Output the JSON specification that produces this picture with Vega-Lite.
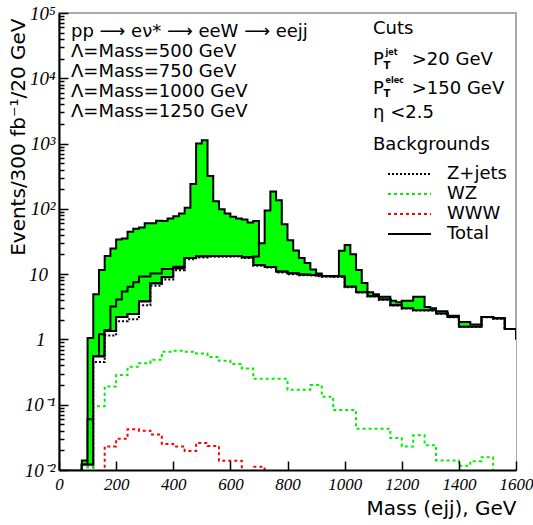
{
  "$schema": "https://vega.github.io/schema/vega-lite/v6.json",
  "width": 457,
  "height": 457,
  "autosize": {"type": "none"},
  "padding": {"left": 59, "top": 13, "right": 17, "bottom": 55},
  "background": "white",
  "config": {
    "view": {"stroke": "#aaaaaa", "strokeWidth": 2},
    "text": {"font": "DejaVu Sans", "fontSize": 18, "color": "black", "align": "left", "baseline": "alphabetic"},
    "legend": {
      "orient": "none", "legendX": 314, "legendY": 123, "padding": 0,
      "titleFont": "DejaVu Sans", "titleFontSize": 18, "titleFontWeight": "normal", "titleColor": "black", "titlePadding": 9,
      "labelFont": "DejaVu Sans", "labelFontSize": 18, "labelColor": "black",
      "symbolType": "M-2.15,0H2.15", "symbolSize": 400, "symbolStrokeWidth": 2,
      "symbolOffset": 25.5, "labelOffset": 26.5, "rowPadding": 0
    }
  },
  "datasets": {
    "hist": [
    {"m":60,"s500":0.001,"s750":0.001,"s1000":0.001,"s1250":0.001,"total":0.001,"zjets":0.001,"wz":0.001,"www":0.001},
    {"m":80,"s500":0.014,"s750":0.012,"s1000":0.012,"s1250":0.012,"total":0.012,"zjets":0.001,"wz":0.011,"www":0.001},
    {"m":100,"s500":1.05,"s750":0.06,"s1000":0.012,"s1250":0.012,"total":0.012,"zjets":0.001,"wz":0.011,"www":0.001},
    {"m":120,"s500":4.9,"s750":0.55,"s1000":0.55,"s1250":0.55,"total":0.55,"zjets":0.45,"wz":0.095,"www":0.001},
    {"m":140,"s500":11.6,"s750":1.2,"s1000":0.55,"s1250":0.55,"total":0.55,"zjets":0.45,"wz":0.095,"www":0.001},
    {"m":160,"s500":19,"s750":1.4,"s1000":1.35,"s1250":1.35,"total":1.35,"zjets":1.15,"wz":0.19,"www":0.023},
    {"m":180,"s500":24.8,"s750":3.2,"s1000":1.35,"s1250":1.35,"total":1.35,"zjets":1.15,"wz":0.19,"www":0.023},
    {"m":200,"s500":34,"s750":4.1,"s1000":2.2,"s1250":2.2,"total":2.2,"zjets":1.9,"wz":0.285,"www":0.03},
    {"m":220,"s500":35,"s750":5.4,"s1000":2.2,"s1250":2.2,"total":2.2,"zjets":1.9,"wz":0.285,"www":0.03},
    {"m":240,"s500":44.6,"s750":6.4,"s1000":2.45,"s1250":2.45,"total":2.45,"zjets":2.03,"wz":0.38,"www":0.042},
    {"m":260,"s500":49.5,"s750":7.5,"s1000":2.45,"s1250":2.45,"total":2.45,"zjets":2.03,"wz":0.38,"www":0.042},
    {"m":280,"s500":52,"s750":9.2,"s1000":3.8,"s1250":3.8,"total":3.8,"zjets":3.33,"wz":0.43,"www":0.04},
    {"m":300,"s500":60,"s750":9.2,"s1000":3.8,"s1250":3.8,"total":3.8,"zjets":3.33,"wz":0.43,"www":0.04},
    {"m":320,"s500":60,"s750":10.2,"s1000":7.2,"s1250":7.2,"total":7.2,"zjets":6.67,"wz":0.49,"www":0.035},
    {"m":340,"s500":66,"s750":10.2,"s1000":7.2,"s1250":7.2,"total":7.2,"zjets":6.67,"wz":0.49,"www":0.035},
    {"m":360,"s500":65,"s750":12,"s1000":9,"s1250":9,"total":9,"zjets":8.3,"wz":0.65,"www":0.025},
    {"m":380,"s500":71,"s750":12,"s1000":9,"s1250":9,"total":9,"zjets":8.3,"wz":0.65,"www":0.025},
    {"m":400,"s500":77,"s750":13,"s1000":12.2,"s1250":12.2,"total":12.2,"zjets":11.5,"wz":0.67,"www":0.023},
    {"m":420,"s500":85,"s750":13,"s1000":12.2,"s1250":12.2,"total":12.2,"zjets":11.5,"wz":0.67,"www":0.023},
    {"m":440,"s500":104,"s750":17.6,"s1000":17.6,"s1250":17.6,"total":17.6,"zjets":16.9,"wz":0.65,"www":0.0195},
    {"m":460,"s500":241,"s750":17.6,"s1000":17.6,"s1250":17.6,"total":17.6,"zjets":16.9,"wz":0.65,"www":0.0195},
    {"m":480,"s500":1000,"s750":18.6,"s1000":18.6,"s1250":18.6,"total":18.6,"zjets":18,"wz":0.61,"www":0.026},
    {"m":500,"s500":1125,"s750":18.6,"s1000":18.6,"s1250":18.6,"total":18.6,"zjets":18,"wz":0.61,"www":0.026},
    {"m":520,"s500":318,"s750":19,"s1000":19,"s1250":19,"total":19,"zjets":18.4,"wz":0.54,"www":0.0234},
    {"m":540,"s500":131,"s750":19,"s1000":19,"s1250":19,"total":19,"zjets":18.4,"wz":0.54,"www":0.0234},
    {"m":560,"s500":99,"s750":19,"s1000":19,"s1250":19,"total":19,"zjets":18.5,"wz":0.47,"www":0.0138},
    {"m":580,"s500":85,"s750":19,"s1000":19,"s1250":19,"total":19,"zjets":18.5,"wz":0.47,"www":0.0138},
    {"m":600,"s500":75.7,"s750":19,"s1000":19,"s1250":19,"total":19,"zjets":18.6,"wz":0.42,"www":0.0138},
    {"m":620,"s500":71,"s750":19,"s1000":19,"s1250":19,"total":19,"zjets":18.6,"wz":0.42,"www":0.0138},
    {"m":640,"s500":69,"s750":18,"s1000":18,"s1250":18,"total":18,"zjets":17.6,"wz":0.36,"www":0.001},
    {"m":660,"s500":62,"s750":18,"s1000":18,"s1250":18,"total":18,"zjets":17.6,"wz":0.36,"www":0.001},
    {"m":680,"s500":65,"s750":18.6,"s1000":13.8,"s1250":13.8,"total":13.8,"zjets":13.5,"wz":0.25,"www":0.0112},
    {"m":700,"s500":25,"s750":29.6,"s1000":13.8,"s1250":13.8,"total":13.8,"zjets":13.5,"wz":0.25,"www":0.0112},
    {"m":720,"s500":12.9,"s750":94,"s1000":12.9,"s1250":12.9,"total":12.9,"zjets":12.6,"wz":0.25,"www":0.001},
    {"m":740,"s500":12.9,"s750":184,"s1000":12.9,"s1250":12.9,"total":12.9,"zjets":12.6,"wz":0.25,"www":0.001},
    {"m":760,"s500":10.9,"s750":136,"s1000":10.9,"s1250":10.9,"total":10.9,"zjets":10.6,"wz":0.25,"www":0.001},
    {"m":780,"s500":10.9,"s750":58,"s1000":10.9,"s1250":10.9,"total":10.9,"zjets":10.6,"wz":0.25,"www":0.001},
    {"m":800,"s500":10.2,"s750":33,"s1000":10.2,"s1250":10.2,"total":10.2,"zjets":10,"wz":0.17,"www":0.001},
    {"m":820,"s500":10.2,"s750":23,"s1000":10.2,"s1250":10.2,"total":10.2,"zjets":10,"wz":0.17,"www":0.001},
    {"m":840,"s500":9.8,"s750":17.6,"s1000":9.8,"s1250":9.8,"total":9.8,"zjets":9.6,"wz":0.17,"www":0.001},
    {"m":860,"s500":9.8,"s750":14.8,"s1000":9.8,"s1250":9.8,"total":9.8,"zjets":9.6,"wz":0.17,"www":0.001},
    {"m":880,"s500":9.7,"s750":11.8,"s1000":9.7,"s1250":9.7,"total":9.7,"zjets":9.5,"wz":0.2,"www":0.001},
    {"m":900,"s500":9.5,"s750":10.2,"s1000":9.5,"s1250":9.5,"total":9.5,"zjets":9.3,"wz":0.2,"www":0.001},
    {"m":920,"s500":9.3,"s750":9.3,"s1000":9.3,"s1250":9.3,"total":9.3,"zjets":9.15,"wz":0.133,"www":0.001},
    {"m":940,"s500":9.3,"s750":9.3,"s1000":9.3,"s1250":9.3,"total":9.3,"zjets":9.15,"wz":0.133,"www":0.001},
    {"m":960,"s500":9.2,"s750":9.2,"s1000":9.3,"s1250":9.2,"total":9.2,"zjets":9.1,"wz":0.083,"www":0.001},
    {"m":980,"s500":9.2,"s750":9.2,"s1000":22.8,"s1250":9.2,"total":9.2,"zjets":9.1,"wz":0.083,"www":0.001},
    {"m":1000,"s500":6.4,"s750":6.4,"s1000":27.9,"s1250":6.4,"total":6.4,"zjets":6.3,"wz":0.083,"www":0.001},
    {"m":1020,"s500":6.4,"s750":6.4,"s1000":20.2,"s1250":6.4,"total":6.4,"zjets":6.3,"wz":0.083,"www":0.001},
    {"m":1040,"s500":5.3,"s750":5.3,"s1000":11.6,"s1250":5.3,"total":5.3,"zjets":5.25,"wz":0.043,"www":0.001},
    {"m":1060,"s500":5.3,"s750":5.3,"s1000":7.3,"s1250":5.3,"total":5.3,"zjets":5.25,"wz":0.043,"www":0.001},
    {"m":1080,"s500":4.6,"s750":4.6,"s1000":5.3,"s1250":4.6,"total":4.6,"zjets":4.55,"wz":0.043,"www":0.001},
    {"m":1100,"s500":4.6,"s750":4.6,"s1000":4.9,"s1250":4.6,"total":4.6,"zjets":4.55,"wz":0.043,"www":0.001},
    {"m":1120,"s500":4.1,"s750":4.1,"s1000":4.5,"s1250":4.1,"total":4.1,"zjets":4.05,"wz":0.043,"www":0.001},
    {"m":1140,"s500":4.1,"s750":4.1,"s1000":4.5,"s1250":4.1,"total":4.1,"zjets":4.05,"wz":0.043,"www":0.001},
    {"m":1160,"s500":3.35,"s750":3.35,"s1000":3.9,"s1250":3.35,"total":3.35,"zjets":3.3,"wz":0.031,"www":0.001},
    {"m":1180,"s500":3.35,"s750":3.35,"s1000":3.7,"s1250":3.35,"total":3.35,"zjets":3.3,"wz":0.031,"www":0.001},
    {"m":1200,"s500":3,"s750":3,"s1000":3.3,"s1250":3.9,"total":3,"zjets":2.97,"wz":0.023,"www":0.001},
    {"m":1220,"s500":3,"s750":3,"s1000":3.3,"s1250":3.9,"total":3,"zjets":2.97,"wz":0.023,"www":0.001},
    {"m":1240,"s500":2.8,"s750":2.8,"s1000":2.8,"s1250":4.5,"total":2.8,"zjets":2.77,"wz":0.034,"www":0.001},
    {"m":1260,"s500":2.8,"s750":2.8,"s1000":2.8,"s1250":4.5,"total":2.8,"zjets":2.77,"wz":0.034,"www":0.001},
    {"m":1280,"s500":2.8,"s750":2.8,"s1000":2.8,"s1250":3.15,"total":2.8,"zjets":2.77,"wz":0.024,"www":0.001},
    {"m":1300,"s500":2.8,"s750":2.8,"s1000":2.8,"s1250":3.0,"total":2.8,"zjets":2.77,"wz":0.024,"www":0.001},
    {"m":1320,"s500":2.5,"s750":2.5,"s1000":2.5,"s1250":2.7,"total":2.5,"zjets":2.48,"wz":0.014,"www":0.001},
    {"m":1340,"s500":2.5,"s750":2.5,"s1000":2.5,"s1250":2.7,"total":2.5,"zjets":2.48,"wz":0.014,"www":0.001},
    {"m":1360,"s500":2.2,"s750":2.2,"s1000":2.2,"s1250":2.3,"total":2.2,"zjets":2.18,"wz":0.014,"www":0.001},
    {"m":1380,"s500":2.2,"s750":2.2,"s1000":2.2,"s1250":2.3,"total":2.2,"zjets":2.18,"wz":0.014,"www":0.001},
    {"m":1400,"s500":1.57,"s750":1.57,"s1000":1.57,"s1250":1.85,"total":1.57,"zjets":1.56,"wz":0.0116,"www":0.001},
    {"m":1420,"s500":1.57,"s750":1.57,"s1000":1.57,"s1250":1.85,"total":1.57,"zjets":1.56,"wz":0.0116,"www":0.001},
    {"m":1440,"s500":1.57,"s750":1.57,"s1000":1.57,"s1250":1.7,"total":1.57,"zjets":1.56,"wz":0.0136,"www":0.001},
    {"m":1460,"s500":1.57,"s750":1.57,"s1000":1.57,"s1250":1.7,"total":1.57,"zjets":1.56,"wz":0.0136,"www":0.001},
    {"m":1480,"s500":2.2,"s750":2.2,"s1000":2.2,"s1250":2.2,"total":2.2,"zjets":2.18,"wz":0.0157,"www":0.001},
    {"m":1500,"s500":2.2,"s750":2.2,"s1000":2.2,"s1250":2.2,"total":2.2,"zjets":2.18,"wz":0.0157,"www":0.001},
    {"m":1520,"s500":2.1,"s750":2.1,"s1000":2.1,"s1250":2.1,"total":2.1,"zjets":2.08,"wz":0.001,"www":0.001},
    {"m":1540,"s500":2.1,"s750":2.1,"s1000":2.1,"s1250":2.1,"total":2.1,"zjets":2.08,"wz":0.001,"www":0.001},
    {"m":1560,"s500":1.45,"s750":1.45,"s1000":1.45,"s1250":1.45,"total":1.45,"zjets":1.44,"wz":0.001,"www":0.001},
    {"m":1580,"s500":1.45,"s750":1.45,"s1000":1.45,"s1250":1.45,"total":1.45,"zjets":1.44,"wz":0.001,"www":0.001},
    {"m":1600,"s500":1.0,"s750":1.0,"s1000":1.0,"s1250":1.0,"total":1.0,"zjets":1.0,"wz":0.001,"www":0.001}
    ],
    "notes": [
      {"id": "chain", "t": "pp ⟶ eν* ⟶ eeW ⟶ eejj"},
      {"id": "mass"},
      {"id": "cuts", "t": "Cuts"},
      {"id": "p1", "t": "P"},
      {"id": "t1", "t": "T"},
      {"id": "jet", "t": "jet"},
      {"id": "c1", "t": ">20 GeV"},
      {"id": "p2", "t": "P"},
      {"id": "t2", "t": "T"},
      {"id": "elec", "t": "elec"},
      {"id": "c2", "t": ">150 GeV"},
      {"id": "eta", "t": "η <2.5"}
    ]
  },
  "layer": [
    {
      "data": {"name": "hist"},
      "mark": {"type": "area", "interpolate": "step-after", "color": "#00ff00", "opacity": 1, "clip": true, "line": {"color": "black", "strokeWidth": 2}},
      "encoding": {
        "x": {
          "field": "m", "type": "quantitative",
          "scale": {"domain": [0, 1600], "nice": false},
          "axis": {
            "values": [0, 200, 400, 600, 800, 1000, 1200, 1400, 1600], "format": "d",
            "tickSize": -9, "tickWidth": 1.5, "tickColor": "black",
            "domainColor": "black", "domainWidth": 2,
            "labelFont": "Liberation Serif", "labelFontStyle": "italic", "labelFontSize": 17, "labelColor": "black",
            "labelPadding": 15, "labelFlush": false, "labelOverlap": false, "grid": false,
            "title": "Mass (ejj), GeV", "titleFont": "DejaVu Sans", "titleFontSize": 20, "titleFontWeight": "normal", "titleColor": "black",
            "titleAlign": "right", "titleBaseline": "alphabetic", "titleX": 457, "titleY": 44, "zindex": 1
          }
        },
        "y": {
          "field": "s500", "type": "quantitative",
          "scale": {"type": "log", "domain": [0.01, 100000], "nice": false},
          "axis": {
            "values": [0.01,0.02,0.03,0.04,0.05,0.06,0.07,0.08,0.09,0.1,0.2,0.3,0.4,0.5,0.6,0.7,0.8,0.9,1,2,3,4,5,6,7,8,9,10,20,30,40,50,60,70,80,90,100,200,300,400,500,600,700,800,900,1000,2000,3000,4000,5000,6000,7000,8000,9000,10000,20000,30000,40000,50000,60000,70000,80000,90000,100000],
            "tickSize": {"condition": {"test": "indexof([0.01,0.1,1,10,100,1000,10000,100000], datum.value) >= 0", "value": -9}, "value": -5},
            "tickWidth": 1.5, "tickColor": "black",
            "domainColor": "black", "domainWidth": 2,
            "labelExpr": "datum.value==0.01?'10⁻²':datum.value==0.1?'10⁻¹':datum.value==1?'1':datum.value==10?'10':datum.value==100?'10²':datum.value==1000?'10³':datum.value==10000?'10⁴':datum.value==100000?'10⁵':''",
            "labelFont": "Liberation Serif", "labelFontStyle": "italic", "labelFontSize": 19, "labelColor": "black",
            "labelPadding": {"condition": [{"test": "datum.value==1", "value": 23}, {"test": "datum.value==10", "value": 20.5}], "value": 13},
            "labelFlush": false, "labelOverlap": false, "grid": false,
            "title": "Events/300 fb⁻¹/20 GeV", "titleFont": "DejaVu Sans", "titleFontSize": 20, "titleFontWeight": "normal", "titleColor": "black",
            "titleAlign": "right", "titleBaseline": "middle", "titleX": -41, "titleY": 5, "zindex": 1
          }
        },
        "y2": {"datum": 0.001}
      }
    },
    {
      "data": {"name": "hist"},
      "mark": {"type": "area", "interpolate": "step-after", "color": "#00ff00", "opacity": 1, "clip": true, "line": {"color": "black", "strokeWidth": 2}},
      "encoding": {"x": {"field": "m", "type": "quantitative"}, "y": {"field": "s750", "type": "quantitative"}, "y2": {"datum": 0.001}}
    },
    {
      "data": {"name": "hist"},
      "mark": {"type": "area", "interpolate": "step-after", "color": "#00ff00", "opacity": 1, "clip": true, "line": {"color": "black", "strokeWidth": 2}},
      "encoding": {"x": {"field": "m", "type": "quantitative"}, "y": {"field": "s1000", "type": "quantitative"}, "y2": {"datum": 0.001}}
    },
    {
      "data": {"name": "hist"},
      "mark": {"type": "area", "interpolate": "step-after", "color": "#00ff00", "opacity": 1, "clip": true, "line": {"color": "black", "strokeWidth": 2}},
      "encoding": {"x": {"field": "m", "type": "quantitative"}, "y": {"field": "s1250", "type": "quantitative"}, "y2": {"datum": 0.001}}
    },
    {
      "data": {"name": "hist"},
      "mark": {"type": "area", "interpolate": "step-after", "color": "white", "opacity": 1, "clip": true},
      "encoding": {"x": {"field": "m", "type": "quantitative"}, "y": {"field": "total", "type": "quantitative"}, "y2": {"datum": 0.001}}
    },
    {
      "data": {"name": "hist"},
      "transform": [{"fold": ["zjets", "wz", "www", "total"], "as": ["series", "val"]}],
      "mark": {"type": "line", "interpolate": "step-after", "strokeWidth": 2, "clip": true},
      "encoding": {
        "x": {"field": "m", "type": "quantitative"},
        "y": {"field": "val", "type": "quantitative"},
        "color": {
          "field": "series", "type": "nominal",
          "scale": {"domain": ["zjets", "wz", "www", "total"], "range": ["black", "#00ee00", "red", "black"]},
          "legend": {"title": "Backgrounds", "labelExpr": "datum.label=='zjets'?'Z+jets':datum.label=='wz'?'WZ':datum.label=='www'?'WWW':'Total'"}
        },
        "strokeDash": {
          "field": "series", "type": "nominal",
          "scale": {"domain": ["zjets", "wz", "www", "total"], "range": [[2, 2], [3, 3], [3, 3], [1, 0]]},
          "legend": {"title": "Backgrounds", "labelExpr": "datum.label=='zjets'?'Z+jets':datum.label=='wz'?'WZ':datum.label=='www'?'WWW':'Total'"}
        }
      }
    },
    {
      "data": {"name": "notes"}, "transform": [{"filter": "datum.id=='chain'"}],
      "mark": {"type": "text"},
      "encoding": {"x": {"datum": 42}, "y": {"datum": 43500}, "text": {"field": "t"}}
    },
    {
      "data": {"name": "notes"}, "transform": [{"filter": "datum.id=='mass'"}],
      "mark": {"type": "text", "lineHeight": 20.1, "text": ["Λ=Mass=500 GeV", "Λ=Mass=750 GeV", "Λ=Mass=1000 GeV", "Λ=Mass=1250 GeV"]},
      "encoding": {"x": {"datum": 42}, "y": {"datum": 21350}}
    },
    {
      "data": {"name": "notes"}, "transform": [{"filter": "datum.id=='cuts'"}],
      "mark": {"type": "text"},
      "encoding": {"x": {"datum": 1099.4}, "y": {"datum": 47530}, "text": {"field": "t"}}
    },
    {
      "data": {"name": "notes"}, "transform": [{"filter": "datum.id=='p1'"}],
      "mark": {"type": "text"},
      "encoding": {"x": {"datum": 1099.4}, "y": {"datum": 15925}, "text": {"field": "t"}}
    },
    {
      "data": {"name": "notes"}, "transform": [{"filter": "datum.id=='t1'"}],
      "mark": {"type": "text", "fontSize": 10, "fontWeight": "bold"},
      "encoding": {"x": {"datum": 1136}, "y": {"datum": 14080}, "text": {"field": "t"}}
    },
    {
      "data": {"name": "notes"}, "transform": [{"filter": "datum.id=='jet'"}],
      "mark": {"type": "text", "fontSize": 8, "fontWeight": "bold"},
      "encoding": {"x": {"datum": 1143}, "y": {"datum": 22660}, "text": {"field": "t"}}
    },
    {
      "data": {"name": "notes"}, "transform": [{"filter": "datum.id=='c1'"}],
      "mark": {"type": "text"},
      "encoding": {"x": {"datum": 1235}, "y": {"datum": 15925}, "text": {"field": "t"}}
    },
    {
      "data": {"name": "notes"}, "transform": [{"filter": "datum.id=='p2'"}],
      "mark": {"type": "text"},
      "encoding": {"x": {"datum": 1099.4}, "y": {"datum": 5730}, "text": {"field": "t"}}
    },
    {
      "data": {"name": "notes"}, "transform": [{"filter": "datum.id=='t2'"}],
      "mark": {"type": "text", "fontSize": 10, "fontWeight": "bold"},
      "encoding": {"x": {"datum": 1136}, "y": {"datum": 5150}, "text": {"field": "t"}}
    },
    {
      "data": {"name": "notes"}, "transform": [{"filter": "datum.id=='elec'"}],
      "mark": {"type": "text", "fontSize": 8, "fontWeight": "bold"},
      "encoding": {"x": {"datum": 1143}, "y": {"datum": 8445}, "text": {"field": "t"}}
    },
    {
      "data": {"name": "notes"}, "transform": [{"filter": "datum.id=='c2'"}],
      "mark": {"type": "text"},
      "encoding": {"x": {"datum": 1235}, "y": {"datum": 5730}, "text": {"field": "t"}}
    },
    {
      "data": {"name": "notes"}, "transform": [{"filter": "datum.id=='eta'"}],
      "mark": {"type": "text"},
      "encoding": {"x": {"datum": 1099.4}, "y": {"datum": 2500}, "text": {"field": "t"}}
    }
  ]
}
